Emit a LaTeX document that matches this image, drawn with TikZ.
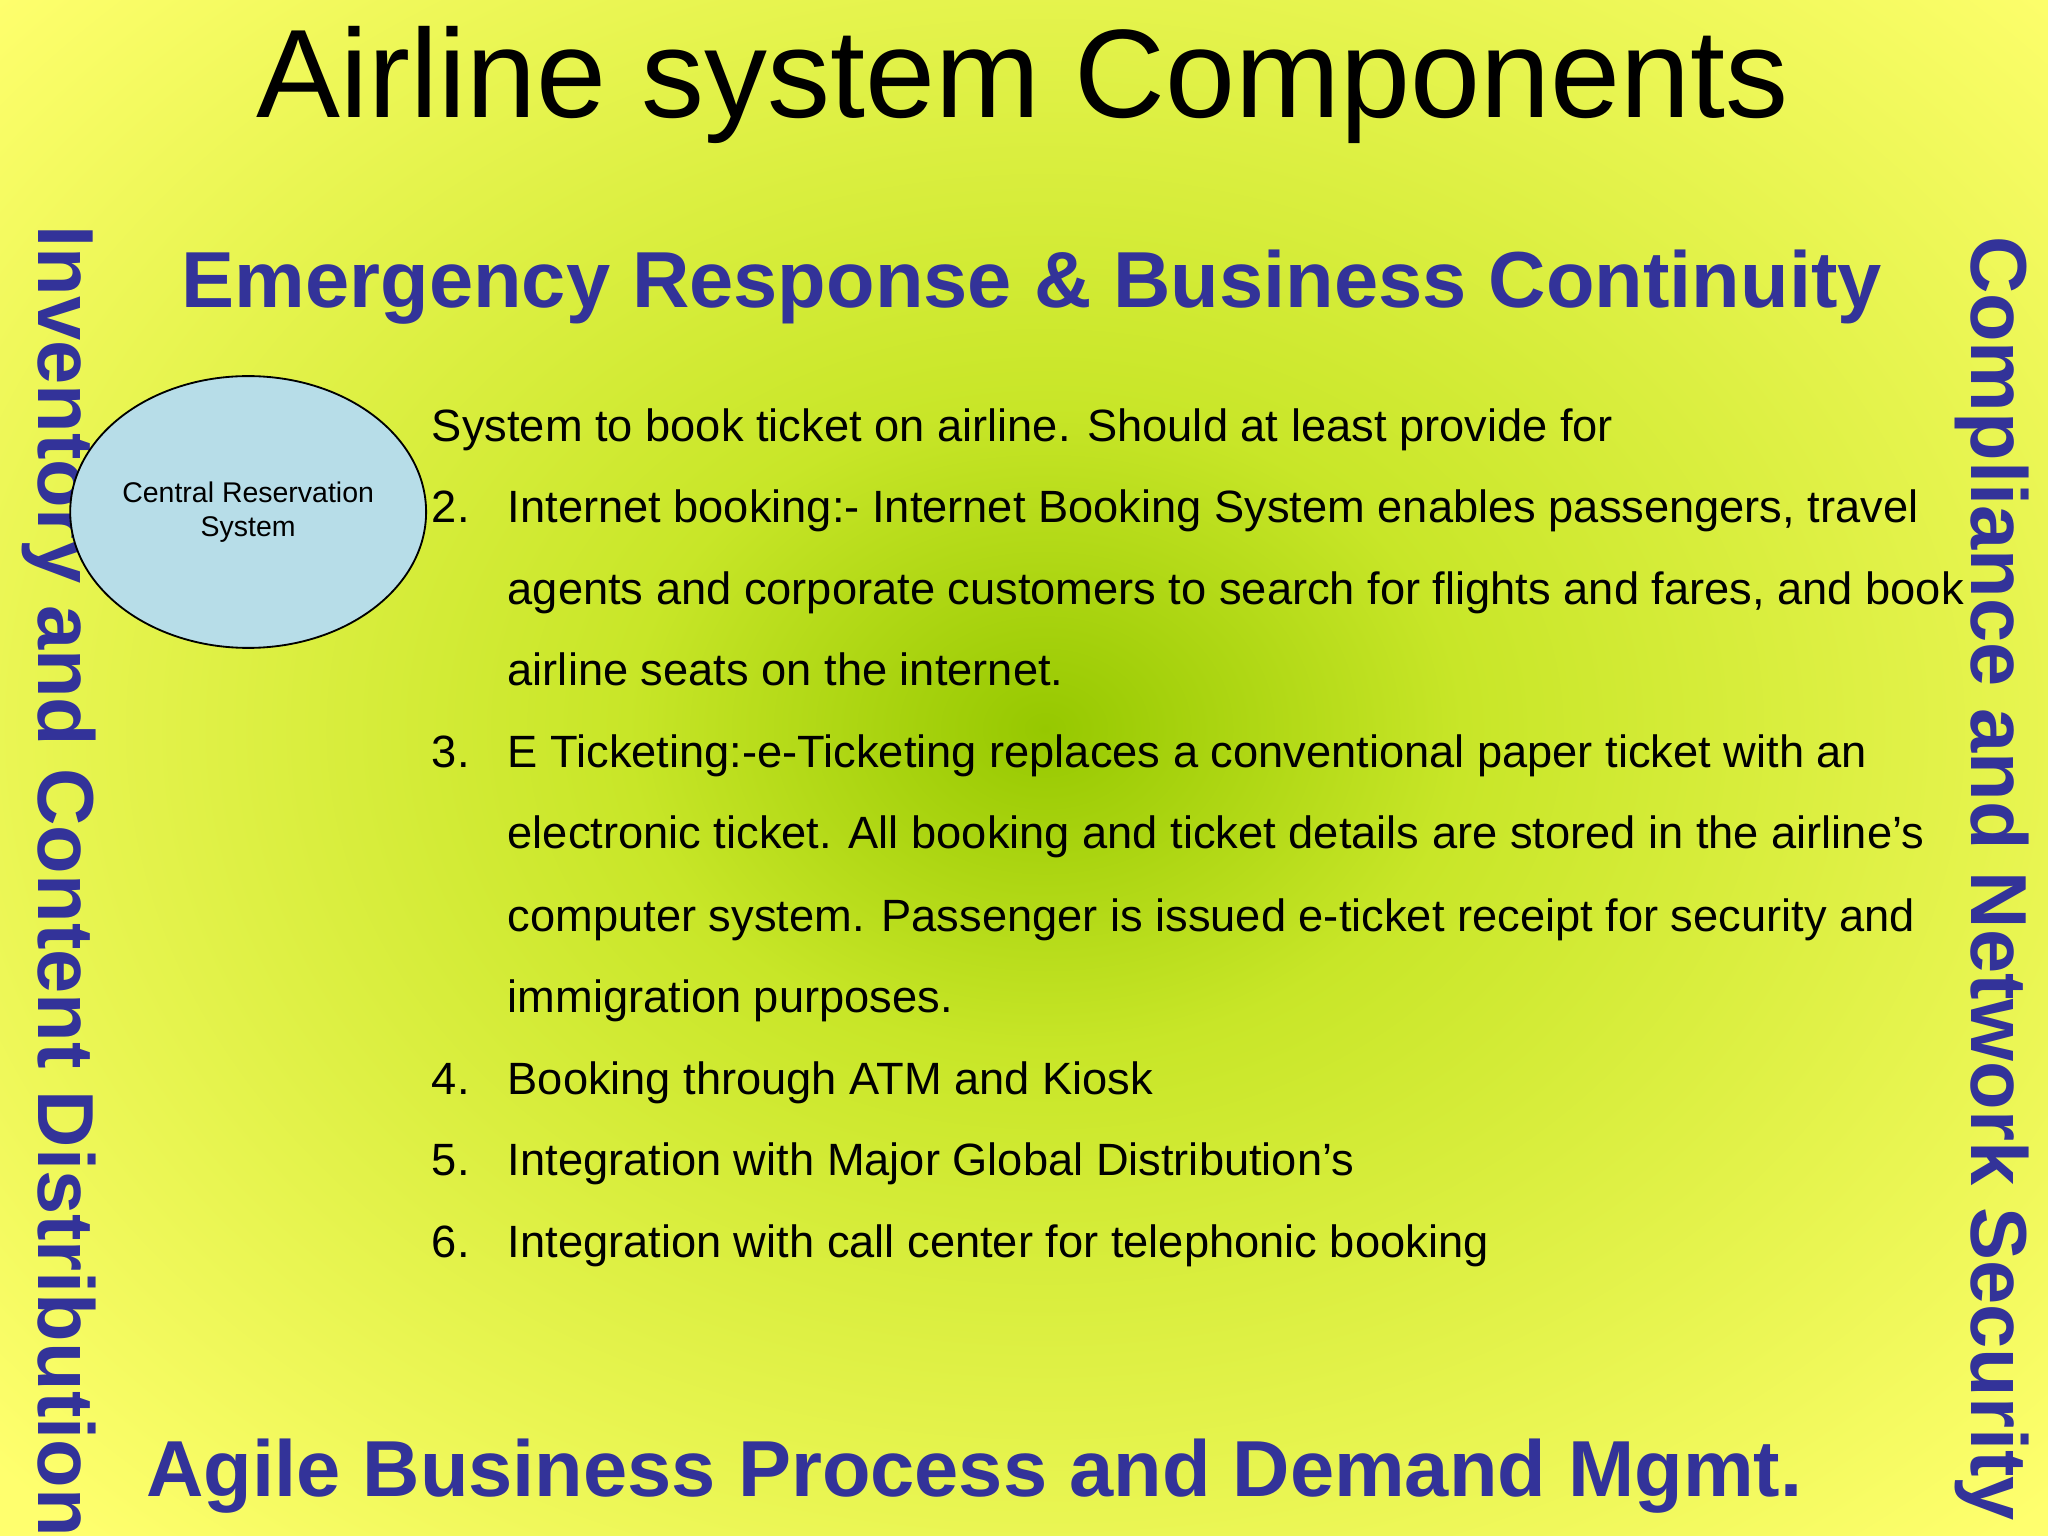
\documentclass[tikz,border=0pt]{standalone}
\usepackage{fontspec}
\usetikzlibrary{shapes.geometric}
\setmainfont{Liberation Sans}
\definecolor{cy}{RGB}{255,255,110}
\definecolor{cm}{RGB}{200,230,40}
\definecolor{cg}{RGB}{150,200,0}
\definecolor{hb}{RGB}{51,51,153}
\definecolor{ell}{RGB}{183,221,232}
\pgfdeclareradialshading{bgshade}{\pgfpoint{0bp}{0bp}}{color(0bp)=(cg); color(10bp)=(cm); color(34bp)=(cy); color(50bp)=(cy)}
\begin{document}
\begin{tikzpicture}[x=0.01cm,y=-0.01cm,
  body/.style={anchor=base west,inner sep=0pt,font=\fontsize{9.85}{11}\selectfont},
  head/.style={text=hb,font=\fontsize{17.3}{19}\selectfont\bfseries,inner sep=0pt}]
\useasboundingbox (0,0) rectangle (1568,1176);
\fill[cy] (0,0) rectangle (1568,1176);
\shade[shading=bgshade] (0,-60) rectangle (1600,1176);
\node[font=\fontsize{27.4}{31}\selectfont,inner sep=0pt] (title) at (783,65) {Airline system Components};
\node[head] (top) at (790,220) {Emergency Response \& Business Continuity};
\node[head] (bot) at (746,1130) {Agile Business Process and Demand Mgmt.};
\node[head,rotate=-90,anchor=west] (left) at (45,172) {Inventory and Content Distribution};
\node[head,rotate=-90,anchor=west] (right) at (1525,180) {Compliance and Network Security};
\node[draw,ellipse,fill=ell,minimum width=2.48cm,minimum height=2.08cm,align=center,font=\fontsize{6.2}{7.4}\selectfont,inner sep=0pt] (crs) at (190,392) {Central Reservation\\System};
\node[body] (l0) at (330,338) {System to book ticket on airline. Should at least provide for};
\node[body] (n2) at (330,400) {2.};
\node[body] (l1) at (388,400) {Internet booking:- Internet Booking System enables passengers, travel};
\node[body] (l2) at (388,463) {agents and corporate customers to search for flights and fares, and book};
\node[body] (l3) at (388,525) {airline seats on the internet.};
\node[body] (n3) at (330,588) {3.};
\node[body] (l4) at (388,588) {E Ticketing:-e-Ticketing replaces a conventional paper ticket with an};
\node[body] (l5) at (388,650) {electronic ticket. All booking and ticket details are stored in the airline’s};
\node[body] (l6) at (388,713) {computer system. Passenger is issued e-ticket receipt for security and};
\node[body] (l7) at (388,775) {immigration purposes.};
\node[body] (n4) at (330,838) {4.};
\node[body] (l8) at (388,838) {Booking through ATM and Kiosk};
\node[body] (n5) at (330,900) {5.};
\node[body] (l9) at (388,900) {Integration with Major Global Distribution’s};
\node[body] (n6) at (330,963) {6.};
\node[body] (l10) at (388,963) {Integration with call center for telephonic booking};
\end{tikzpicture}
\end{document}
